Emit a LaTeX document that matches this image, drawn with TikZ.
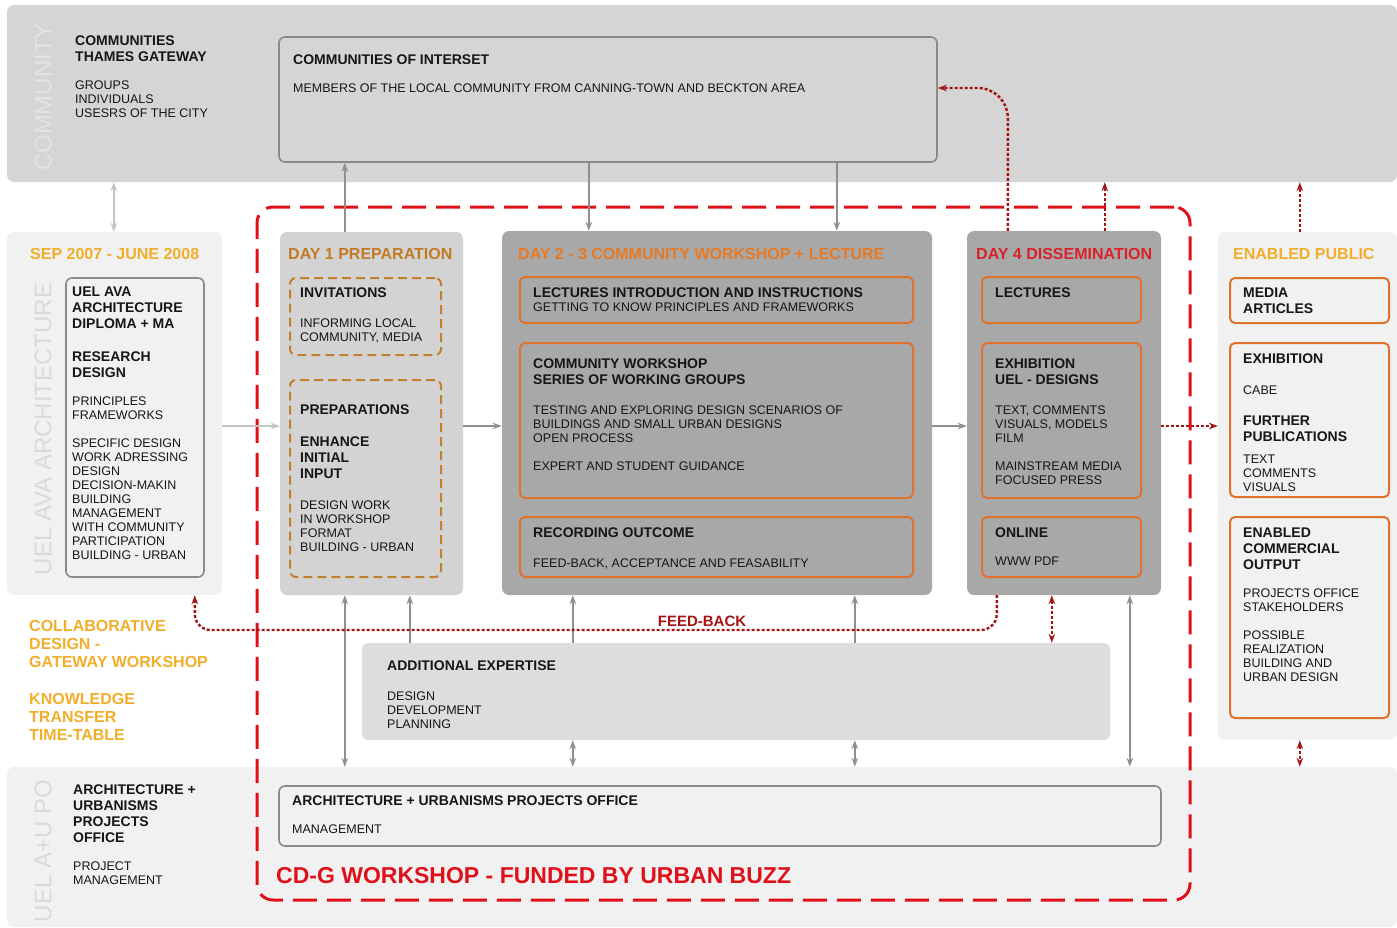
\documentclass[tikz,border=0pt]{standalone}
\usepackage{fontspec}
\setmainfont{Liberation Sans}
\usetikzlibrary{fit,arrows.meta}
\definecolor{bandA}{HTML}{D5D5D5}
\definecolor{bandB}{HTML}{F1F1F1}
\definecolor{dayL}{HTML}{D3D3D3}
\definecolor{dayD}{HTML}{A8A8A8}
\definecolor{aeF}{HTML}{DDDDDD}
\definecolor{boxS}{HTML}{8A8A8A}
\definecolor{orS}{HTML}{E0732B}
\definecolor{brS}{HTML}{C0802E}
\definecolor{orT}{HTML}{E67A25}
\definecolor{brT}{HTML}{C27A24}
\definecolor{ylT}{HTML}{F2AE2A}
\definecolor{rdT}{HTML}{D9232B}
\definecolor{rdD}{HTML}{E01019}
\definecolor{drk}{HTML}{A31515}
\definecolor{arr}{HTML}{8F8F8F}
\definecolor{arrL}{HTML}{C4C4C4}
\definecolor{txt}{HTML}{161616}
\definecolor{vlC}{HTML}{E3E3E3}
\definecolor{vlU}{HTML}{DADADA}
\tikzset{
  area/.style={inner sep=0pt, rounded corners=7pt, draw=none},
  hd/.style={anchor=base west, inner sep=0pt, align=left, font=\fontsize{14}{16.3}\selectfont\bfseries, text=txt},
  bd/.style={anchor=base west, inner sep=0pt, align=left, font=\fontsize{12.5}{14}\selectfont, text=txt},
  ttl/.style={anchor=base west, inner sep=0pt, font=\fontsize{16}{18}\selectfont\bfseries},
  yl/.style={anchor=base west, inner sep=0pt, align=left, font=\fontsize{16}{18}\selectfont\bfseries, text=ylT},
  vlab/.style={rotate=90, inner sep=0pt, font=\fontsize{24}{24}\selectfont},
  obox/.style={inner sep=0pt, rounded corners=5pt, draw=orS, line width=2pt},
  dbox/.style={inner sep=0pt, rounded corners=6pt, draw=brS, line width=2pt, dash pattern=on 9pt off 5pt},
  gbox/.style={inner sep=0pt, rounded corners=6pt, draw=boxS, line width=1.6pt},
  tip/.style={-{Stealth[length=9pt,width=6.5pt]}},
  tips/.style={{Stealth[length=9pt,width=6.5pt]}-{Stealth[length=9pt,width=6.5pt]}},
  garrow/.style={draw=arr, line width=1.4pt},
  rdot/.style={draw=drk, line width=2.4pt, dash pattern=on 3pt off 2pt},
}
\begin{document}
\begin{tikzpicture}[x=1pt,y=-1pt]
\useasboundingbox (0,0) rectangle (1397,927);
% background bands
\node[area, fill=bandA, fit={(7,5) (1397,182)}] (commband) {};
\node[area, fill=bandB, fit={(7,232) (222,595)}] (leftcol) {};
\node[area, fill=bandB, fit={(1218,232) (1397,740)}] (rightcol) {};
\node[area, fill=bandB, fit={(7,767) (1397,927)}] (botband) {};
\node[vlab, text=vlC] (vcomm) at (43,97) {COMMUNITY};
\node[vlab, text=vlU] (vuel) at (43,429) {UEL AVA ARCHITECTURE};
\node[vlab, text=vlU] (vpo) at (43,851) {UEL A+U PO};

% community band content
\node[hd] (tcg) at (75,61.3) {COMMUNITIES\\THAMES GATEWAY};
\node[bd] (tcgb) at (75,117.5) {GROUPS\\INDIVIDUALS\\USESRS OF THE CITY};
\node[gbox, fill=bandA, fit={(279,37) (937,162)}] (ci) {};
\node[hd] (cit) at (293,64) {COMMUNITIES OF INTERSET};
\node[bd] (cib) at (293,92.5) {MEMBERS OF THE LOCAL COMMUNITY FROM CANNING-TOWN AND BECKTON AREA};

% CD-G red dashed frame
\node[fit={(257,207) (1190,900)}, inner sep=0pt, draw=rdD, line width=3pt, dash pattern=on 24pt off 10pt, rounded corners=16pt] (cdg) {};
\node[anchor=base west, inner sep=0pt, font=\fontsize{23}{25}\selectfont\bfseries, text=rdD] (cdgt) at (276,883) {CD-G WORKSHOP - FUNDED BY URBAN BUZZ};

% left column
\node[ttl, text=ylT] (sep) at (30,259) {SEP 2007 - JUNE 2008};
\node[gbox, fill=bandB, fit={(66,278) (204,577)}] (uelbox) {};
\node[hd] (uel1) at (72,328.6) {UEL AVA\\ARCHITECTURE\\DIPLOMA + MA};
\node[hd] (uel2) at (72,377.3) {RESEARCH\\DESIGN};
\node[bd] (uel3) at (72,419.5) {PRINCIPLES\\FRAMEWORKS};
\node[bd] (uel4) at (72,559) {SPECIFIC DESIGN\\WORK ADRESSING\\DESIGN\\DECISION-MAKIN\\BUILDING\\MANAGEMENT\\WITH COMMUNITY\\PARTICIPATION\\BUILDING - URBAN};
\node[yl] (collab) at (29,667) {COLLABORATIVE\\DESIGN -\\GATEWAY WORKSHOP};
\node[yl] (know) at (29,740) {KNOWLEDGE\\TRANSFER\\TIME-TABLE};

% day 1
\node[area, fill=dayL, fit={(280,232) (463,595)}] (day1) {};
\node[ttl, text=brT] (d1t) at (288,259) {DAY 1 PREPARATION};
\node[dbox, fill=dayL, fit={(290,278) (441,355)}] (inv) {};
\node[hd] (invt) at (300,297) {INVITATIONS};
\node[bd] (invb) at (300,341.5) {INFORMING LOCAL\\COMMUNITY, MEDIA};
\node[dbox, fill=dayL, fit={(290,380) (441,577)}] (prep) {};
\node[hd] (prept) at (300,414) {PREPARATIONS};
\node[hd] (prep2) at (300,478.6) {ENHANCE\\INITIAL\\INPUT};
\node[bd] (prepb) at (300,551.5) {DESIGN WORK\\IN WORKSHOP\\FORMAT\\BUILDING - URBAN};

% day 2-3
\node[area, fill=dayD, fit={(502,231) (932,595)}] (day2) {};
\node[ttl, text=orT] (d2t) at (518,259) {DAY 2 - 3 COMMUNITY WORKSHOP + LECTURE};
\node[obox, fit={(520,277) (913,323)}] (lec) {};
\node[hd] (lect) at (533,297) {LECTURES INTRODUCTION AND INSTRUCTIONS};
\node[bd] (lecb) at (533,311.5) {GETTING TO KNOW PRINCIPLES AND FRAMEWORKS};
\node[obox, fit={(520,343) (913,498)}] (cw) {};
\node[hd] (cwt) at (533,384.8) {COMMUNITY WORKSHOP\\SERIES OF WORKING GROUPS};
\node[bd] (cwb) at (533,442.5) {TESTING AND EXPLORING DESIGN SCENARIOS OF\\BUILDINGS AND SMALL URBAN DESIGNS\\OPEN PROCESS};
\node[bd] (cwb2) at (533,470.5) {EXPERT AND STUDENT GUIDANCE};
\node[obox, fit={(520,517) (913,577)}] (rec) {};
\node[hd] (rect) at (533,537) {RECORDING OUTCOME};
\node[bd] (recb) at (533,567.5) {FEED-BACK, ACCEPTANCE AND FEASABILITY};

% day 4
\node[area, fill=dayD, fit={(967,231) (1161,595)}] (day4) {};
\node[ttl, text=rdT] (d4t) at (976,259) {DAY 4 DISSEMINATION};
\node[obox, fit={(982,277) (1141,323)}] (lec4) {};
\node[hd] (lec4t) at (995,297) {LECTURES};
\node[obox, fit={(982,343) (1141,498)}] (exh4) {};
\node[hd] (exh4t) at (995,384.8) {EXHIBITION\\UEL - DESIGNS};
\node[bd] (exh4b) at (995,442.5) {TEXT, COMMENTS\\VISUALS, MODELS\\FILM};
\node[bd] (exh4c) at (995,484.5) {MAINSTREAM MEDIA\\FOCUSED PRESS};
\node[obox, fit={(982,517) (1141,577)}] (onl) {};
\node[hd] (onlt) at (995,537) {ONLINE};
\node[bd] (onlb) at (995,565.5) {WWW PDF};

% right column
\node[ttl, text=ylT] (ept) at (1233,259) {ENABLED PUBLIC};
\node[obox, fill=bandB, fit={(1230,278) (1389,323)}] (med) {};
\node[hd] (medt) at (1243,313.3) {MEDIA\\ARTICLES};
\node[obox, fill=bandB, fit={(1230,343) (1389,497)}] (exr) {};
\node[hd] (exrt) at (1243,363) {EXHIBITION};
\node[bd] (exrb) at (1243,394.5) {CABE};
\node[hd] (exrt2) at (1243,441.3) {FURTHER\\PUBLICATIONS};
\node[bd] (exrb2) at (1243,491.5) {TEXT\\COMMENTS\\VISUALS};
\node[obox, fill=bandB, fit={(1230,517) (1389,718)}] (eco) {};
\node[hd] (ecot) at (1243,569.6) {ENABLED\\COMMERCIAL\\OUTPUT};
\node[bd] (ecob) at (1243,611.5) {PROJECTS OFFICE\\STAKEHOLDERS};
\node[bd] (ecob2) at (1243,681.5) {POSSIBLE\\REALIZATION\\BUILDING AND\\URBAN DESIGN};

% additional expertise
\node[area, fill=aeF, rounded corners=6pt, fit={(362,643) (1110,740)}] (ae) {};
\node[hd] (aet) at (387,670) {ADDITIONAL EXPERTISE};
\node[bd] (aeb) at (387,728.5) {DESIGN\\DEVELOPMENT\\PLANNING};

% bottom band
\node[hd] (pot) at (73,842.9) {ARCHITECTURE +\\URBANISMS\\PROJECTS\\OFFICE};
\node[bd] (pob) at (73,884.5) {PROJECT\\MANAGEMENT};
\node[gbox, fill=bandB, fit={(279,786) (1161,846)}] (apo) {};
\node[hd] (apot) at (292,805) {ARCHITECTURE + URBANISMS PROJECTS OFFICE};
\node[bd] (apob) at (292,833.5) {MANAGEMENT};

% gray connectors
\draw[draw=arrL, line width=1.4pt, tips] ([xshift=107pt]commband.south west) -- ([xshift=107pt]leftcol.north west);
\draw[draw=arrL, line width=1.4pt, tip] (leftcol.east |- 0,426) -- (day1.west |- 0,426);
\draw[garrow, tip] (day1.east |- 0,426) -- (day2.west |- 0,426);
\draw[garrow, tip] (day2.east |- 0,426) -- (day4.west |- 0,426);
\draw[garrow, tip] ([xshift=65pt]day1.north west) -- ([xshift=65pt]day1.north west |- ci.south);
\draw[garrow, tip] ([xshift=87pt]day2.north west |- ci.south) -- ([xshift=87pt]day2.north west);
\draw[garrow, tip] ([xshift=335pt]day2.north west |- ci.south) -- ([xshift=335pt]day2.north west);
\draw[garrow, tips] ([xshift=65pt]day1.south west) -- ([xshift=65pt]day1.south west |- botband.north);
\draw[garrow, tip] ([xshift=48pt]ae.north west) -- ([xshift=48pt]ae.north west |- day1.south);
\draw[garrow, tip] ([xshift=211pt]ae.north west) -- ([xshift=211pt]ae.north west |- day2.south);
\draw[garrow, tip] ([xshift=493pt]ae.north west) -- ([xshift=493pt]ae.north west |- day2.south);
\draw[garrow, tips] ([xshift=163pt]day4.south west) -- ([xshift=163pt]day4.south west |- botband.north);
\draw[garrow, tips] ([xshift=211pt]ae.south west) -- ([xshift=211pt]ae.south west |- botband.north);
\draw[garrow, tips] ([xshift=493pt]ae.south west) -- ([xshift=493pt]ae.south west |- botband.north);

% red dotted connectors
\draw[rdot, tip, rounded corners=30pt] ([xshift=41pt]day4.north west) -- ([xshift=41pt]day4.north west |- 0,88) -- (ci.east |- 0,88);
\draw[rdot, tip] ([xshift=138pt]day4.north west) -- ([xshift=138pt]day4.north west |- commband.south);
\draw[rdot, tip] (day4.east |- 0,426) -- (rightcol.west |- 0,426);
\draw[rdot, tip] ([xshift=82pt]rightcol.north west) -- ([xshift=82pt]rightcol.north west |- commband.south);
\draw[rdot, tips] ([xshift=82pt]rightcol.south west) -- ([xshift=82pt]rightcol.south west |- botband.north);
\draw[rdot, tips] ([xshift=85pt]day4.south west) -- ([xshift=85pt]day4.south west |- ae.north);
\draw[rdot, tip, rounded corners=16pt] ([xshift=30pt]day4.south west) -- ([xshift=30pt]day4.south west |- 0,630) -- ([xshift=188pt]leftcol.south west |- 0,630) -- ([xshift=188pt]leftcol.south west);
\node[anchor=base, inner sep=0pt, font=\fontsize{15}{17}\selectfont\bfseries, text=drk] (fb) at (702,626) {FEED-BACK};
\end{tikzpicture}
\end{document}
